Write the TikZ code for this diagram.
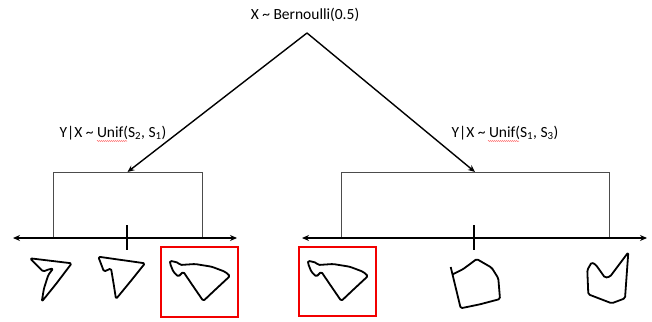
\documentclass[tikz,border=0pt]{standalone}
\usepackage{fontspec}
\setmainfont{Carlito}
\usetikzlibrary{arrows.meta,decorations.pathmorphing}
\begin{document}
\begin{tikzpicture}[x=1pt,y=-1pt,
  lbl/.style={font=\fontsize{15.5}{17}\selectfont, inner sep=0pt, anchor=center},
  axisline/.style={line width=1.5pt, {Stealth[length=7pt,width=6pt]}-{Stealth[length=7pt,width=6pt]}},
  branch/.style={line width=1.4pt, -{Stealth[length=7pt,width=6pt]}},
  bracket/.style={line width=1pt, draw=black!70},
  tick/.style={line width=1.4pt},
  pick/.style={line width=2.2pt, draw=red!95!black},
  sketch/.style={line width=1.8pt, line join=round, rounded corners=1.5pt},
  squig/.style={draw=red!70, line width=0.5pt, decorate,
    decoration={snake, amplitude=0.5pt, segment length=2pt}}
]
\useasboundingbox (0,0) rectangle (652,321);

% root of the tree
\node[lbl] (root) at (305,15) {X \textasciitilde{} Bernoulli(0.5)};
\coordinate (apex) at (307,33);

% left branch: bracket over the first axis
\coordinate (lb1) at (53,238);
\coordinate (lt1) at (53,172);
\coordinate (ltop) at (127.5,172);
\coordinate (lt2) at (202,172);
\coordinate (lb2) at (202,238);
\draw[bracket] (lb1) -- (lt1) -- (lt2) -- (lb2);

% right branch: bracket over the second axis
\coordinate (rb1) at (341,238);
\coordinate (rt1) at (341,172);
\coordinate (rtop) at (475,172);
\coordinate (rt2) at (609,172);
\coordinate (rb2) at (609,238);
\draw[bracket] (rb1) -- (rt1) -- (rt2) -- (rb2);

% branches from the root
\draw[branch] (apex) -- (ltop);
\draw[branch] (apex) -- (rtop);

% conditional labels
\node[lbl] (lcond) at (113,133) {Y|X \textasciitilde{} Unif(S\textsubscript{2}, S\textsubscript{1})};
\node[lbl] (rcond) at (505,133) {Y|X \textasciitilde{} Unif(S\textsubscript{1}, S\textsubscript{3})};
\draw[squig] (97,141) -- (127,141);
\draw[squig] (488,141) -- (519,141);

% axes with centre ticks
\coordinate (la) at (13,238);
\coordinate (lz) at (237,238);
\draw[axisline] (la) -- (lz);
\coordinate (ra) at (302,238);
\coordinate (rz) at (647,238);
\draw[axisline] (ra) -- (rz);
\draw[tick] (127,225) -- (127,250);
\draw[tick] (474,225) -- (474,250);

% shapes along the left axis
\draw[sketch] (30,258.3) -- (71.7,263.3) -- (56,284) -- (41.7,301.7)
  -- (44,288.3) -- (48.3,275) -- (53.3,268.3) -- (46.7,270) -- (43.3,271.7) -- cycle;
\draw[sketch] (98.3,256.7) -- (145,263.3) -- (130,282) -- (116,299)
  -- (113.5,283) -- (111,268.3) -- (104,271.7) -- cycle;

% highlighted shape (drawn twice)
\foreach \bx in {161,299}{
  \begin{scope}[shift={(\bx,247)}]
    \draw[sketch] (9,13.7) -- (17.3,15.7) -- (19,18) -- (34,17) -- (50.7,19.7)
      -- (64,24.7) -- (69,29) -- (55,42) -- (42.3,54) -- (32,39) -- (22.3,24.7)
      -- (17.3,29.7) -- (12.3,24.7) -- (9,16.3) -- cycle;
  \end{scope}
}
\node[pick, draw, minimum width=77pt, minimum height=70pt, inner sep=0pt] (pickL) at (199.5,282) {};
\node[pick, draw, minimum width=77pt, minimum height=69pt, inner sep=0pt] (pickR) at (337.5,281.5) {};

% shapes along the right axis
\draw[sketch] (450.7,267) -- (460.7,308.3) -- (480,304.3) -- (500,299) -- (498.3,278.3)
  -- (491.7,267.7) -- (476.7,259) -- (463.3,269) -- (452.7,274.3);
\draw[sketch] (588.3,294.3) -- (587.3,270) -- (591.7,262.3) -- (596,265) -- (605,277.7)
  -- (610,276.7) -- (628.3,252.3) -- (625,298.3) -- (611.7,303.3) -- cycle;
\end{tikzpicture}
\end{document}
